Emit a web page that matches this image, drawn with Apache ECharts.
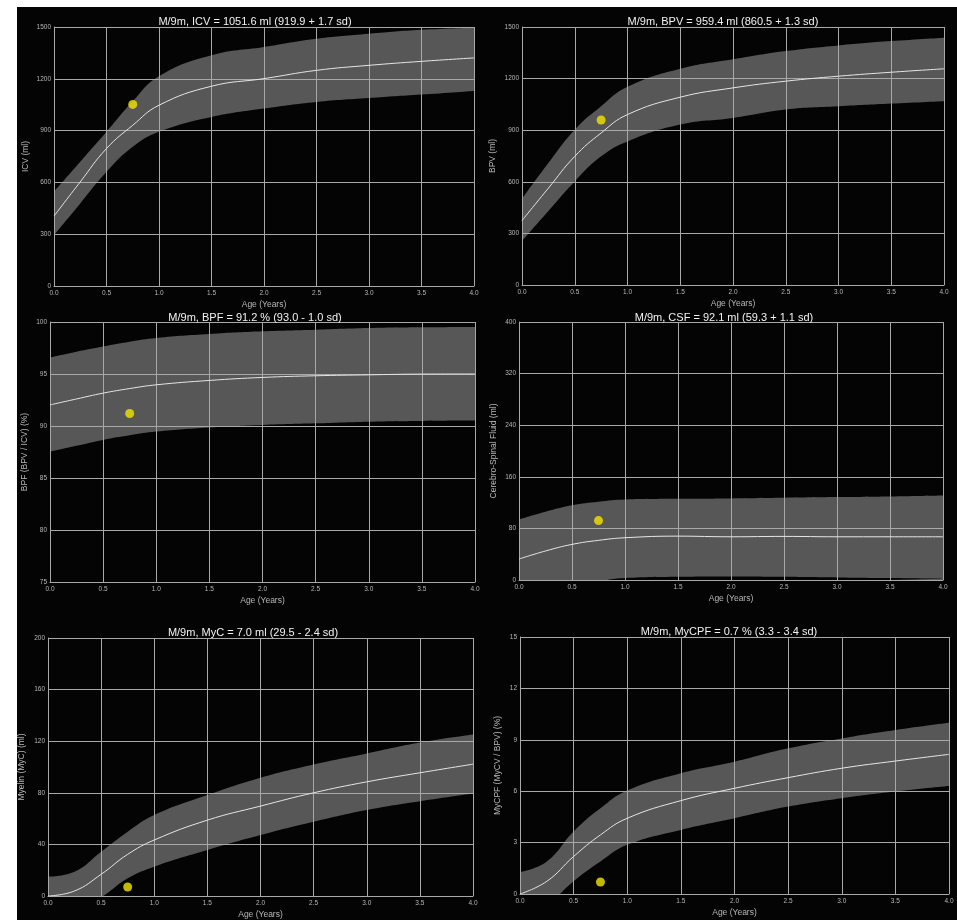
<!DOCTYPE html>
<html>
<head>
<meta charset="utf-8">
<script src="https://cdn.jsdelivr.net/npm/echarts@6/dist/echarts.min.js"></script>
<style>html,body{margin:0;padding:0;background:#fff}#c{width:957px;height:920px}</style>
</head>
<body>
<div id="c"></div>
<script>
// ---- data ----
const ages = [0, 0.25, 0.5, 0.75, 1.0, 1.5, 2.0, 2.5, 3.0, 3.5, 4.0];
const patientAge = 0.75;

const titles = [
  "M/9m, ICV = 1051.6 ml (919.9 + 1.7 sd)",
  "M/9m, BPV = 959.4 ml (860.5 + 1.3 sd)",
  "M/9m, BPF = 91.2 % (93.0 - 1.0 sd)",
  "M/9m, CSF = 92.1 ml (59.3 + 1.1 sd)",
  "M/9m, MyC = 7.0 ml (29.5 - 2.4 sd)",
  "M/9m, MyCPF = 0.7 % (3.3 - 3.4 sd)"
];
const yNames = ["ICV (ml)", "BPV (ml)", "BPF (BPV / ICV) (%)", "Cerebro-Spinal Fluid (ml)", "Myelin (MyC) (ml)", "MyCPF (MyCV / BPV) (%)"];
const xName = "Age (Years)";

const icvMean  = [405, 603, 796, 931, 1047, 1157, 1201, 1249, 1278, 1301, 1321];
const icvUpper = [546, 719, 893, 1070, 1215, 1336, 1384, 1432, 1461, 1484, 1496];
const icvLower = [295, 478, 661, 806, 893, 979, 1028, 1066, 1089, 1109, 1130];
const icvPatient = 1051.6;

const bpvMean  = [375, 563, 748, 884, 991, 1092, 1146, 1185, 1214, 1237, 1257];
const bpvUpper = [501, 709, 903, 1039, 1152, 1257, 1312, 1360, 1393, 1418, 1438];
const bpvLower = [256, 430, 602, 748, 835, 933, 971, 1020, 1039, 1055, 1069];
const bpvPatient = 959.4;

const bpfMean  = [92.03, 92.6, 93.16, 93.6, 93.96, 94.38, 94.67, 94.83, 94.92, 94.99, 95.0];
const bpfUpper = [96.6, 97.15, 97.65, 98.1, 98.46, 98.84, 99.1, 99.26, 99.42, 99.49, 99.52];
const bpfLower = [87.53, 88.1, 88.66, 89.1, 89.46, 89.85, 90.1, 90.26, 90.42, 90.49, 90.52];
const bpfPatient = 91.2;

const csfMean  = [32.5, 45, 55.2, 61.5, 65.5, 68, 67, 67.6, 67, 67, 67];
const csfUpper = [94, 106, 116, 121.5, 125, 126, 126.5, 127.5, 128.5, 129.5, 131];
const csfLower = [-30, -18, -8, -2, 3, 5, 5.5, 5, 4, 3, 2];
const csfPatient = 92.1;

const mycMean  = [0, 3.9, 16.8, 32.3, 43.4, 58.8, 69.7, 80, 88.5, 95.5, 102.2];
const mycUpper = [15, 18.8, 34.3, 49.8, 62.7, 78.2, 91.6, 101.9, 110.5, 119, 125.2];
const mycLower = [-15, -11, -1, 13.7, 22.7, 35.6, 47.2, 57.5, 66.6, 73.5, 79.5];
const mycPatient = 7.0;

const mycpfMean  = [0, 0.74, 2.19, 3.45, 4.42, 5.45, 6.17, 6.79, 7.34, 7.76, 8.15];
const mycpfUpper = [1.28, 1.9, 3.65, 5.0, 6.04, 7.05, 7.72, 8.5, 9.08, 9.57, 9.99];
const mycpfLower = [-1.2, -0.6, 0.75, 1.9, 2.87, 3.74, 4.42, 5.1, 5.59, 5.98, 6.3];
const mycpfPatient = 0.7;

const yRanges = [[0, 1500, 300], [0, 1500, 300], [75, 100, 5], [0, 400, 80], [0, 200, 40], [0, 15, 3]];
const xTicks = [0, 4, 0.5];

// ---- layout ----
const panels = [
  {mean: icvMean, upper: icvUpper, lower: icvLower, pt: icvPatient},
  {mean: bpvMean, upper: bpvUpper, lower: bpvLower, pt: bpvPatient},
  {mean: bpfMean, upper: bpfUpper, lower: bpfLower, pt: bpfPatient},
  {mean: csfMean, upper: csfUpper, lower: csfLower, pt: csfPatient},
  {mean: mycMean, upper: mycUpper, lower: mycLower, pt: mycPatient},
  {mean: mycpfMean, upper: mycpfUpper, lower: mycpfLower, pt: mycpfPatient}
];
const grids = [
  {left: 54, top: 27, width: 420, height: 259},
  {left: 522, top: 27, width: 422, height: 258},
  {left: 50, top: 322, width: 425, height: 260},
  {left: 519, top: 322, width: 424, height: 258},
  {left: 48, top: 638, width: 425, height: 258},
  {left: 520, top: 637, width: 429, height: 257}
];
const titlePos = [[250, 11], [718, 11], [250, 307], [719, 307], [248, 622], [724, 621]];
const yNameGap = [24, 25, 21, 21, 22, 18];

const bg = '#040404';
const bandColor = '#575757';
const gridColor = '#a8a8a8';
const labelColor = '#b8b8b8';
const font = 'Liberation Sans, Arial, sans-serif';
const smoothness = 0.45;

const option = {
  backgroundColor: bg,
  animation: false,
  title: titles.map((t, i) => ({
    text: t, left: titlePos[i][0], top: titlePos[i][1], textAlign: 'center',
    textStyle: {color: '#f2f2f2', fontSize: 11, fontWeight: 'normal', fontFamily: font}
  })),
  grid: grids.map(g => Object.assign({show: false}, g)),
  xAxis: grids.map((g, i) => ({
    type: 'value', gridIndex: i, min: xTicks[0], max: xTicks[1], interval: xTicks[2], z: 3,
    name: xName, nameLocation: 'middle', nameGap: 14,
    nameTextStyle: {color: labelColor, fontSize: 8.5, fontFamily: font},
    axisLine: {show: true, lineStyle: {color: gridColor, width: 1}},
    axisTick: {show: false},
    axisLabel: {color: labelColor, fontSize: 6.5, margin: 4, fontFamily: font, formatter: v => v.toFixed(1)},
    splitLine: {show: true, lineStyle: {color: gridColor, width: 1}}
  })),
  yAxis: grids.map((g, i) => ({
    type: 'value', gridIndex: i, min: yRanges[i][0], max: yRanges[i][1], interval: yRanges[i][2], z: 3,
    name: yNames[i], nameLocation: 'middle', nameGap: yNameGap[i], nameRotate: 90,
    nameTextStyle: {color: labelColor, fontSize: 8.5, fontFamily: font},
    axisLine: {show: true, lineStyle: {color: gridColor, width: 1}},
    axisTick: {show: false},
    axisLabel: {color: labelColor, fontSize: 6.5, margin: 3, fontFamily: font, formatter: v => String(v)},
    splitLine: {show: true, lineStyle: {color: gridColor, width: 1}}
  })),
  graphic: [
    {type: 'rect', left: 0, top: 0, shape: {width: 957, height: 7}, style: {fill: '#ffffff'}, z: 100},
    {type: 'rect', left: 0, top: 0, shape: {width: 17, height: 920}, style: {fill: '#ffffff'}, z: 100}
  ],
  series: []
};

panels.forEach((p, i) => {
  // upper bound of normal band, filled down to the axis minimum
  option.series.push({
    type: 'line', xAxisIndex: i, yAxisIndex: i, smooth: smoothness,
    symbol: 'none', silent: true, lineStyle: {width: 0, opacity: 0}, z: 1,
    areaStyle: {color: bandColor, opacity: 1, origin: 'start'},
    data: ages.map((a, k) => [a, p.upper[k]])
  });
  // lower bound, filled with background colour to cut out the band
  option.series.push({
    type: 'line', xAxisIndex: i, yAxisIndex: i, smooth: smoothness,
    symbol: 'none', silent: true, lineStyle: {width: 0, opacity: 0}, z: 2,
    areaStyle: {color: bg, opacity: 1, origin: 'start'},
    data: ages.map((a, k) => [a, p.lower[k]])
  });
  option.series.push({
    type: 'line', xAxisIndex: i, yAxisIndex: i, smooth: smoothness, symbol: 'none', z: 4,
    lineStyle: {color: '#e6e6e6', width: 1},
    data: ages.map((a, k) => [a, p.mean[k]])
  });
  option.series.push({
    type: 'scatter', xAxisIndex: i, yAxisIndex: i, symbolSize: 9, z: 5,
    itemStyle: {color: '#f4e600'},
    data: [[patientAge, p.pt]]
  });
});

const chart = echarts.init(document.getElementById('c'), null, {renderer: 'canvas'});
chart.setOption(option);
</script>
</body>
</html>
